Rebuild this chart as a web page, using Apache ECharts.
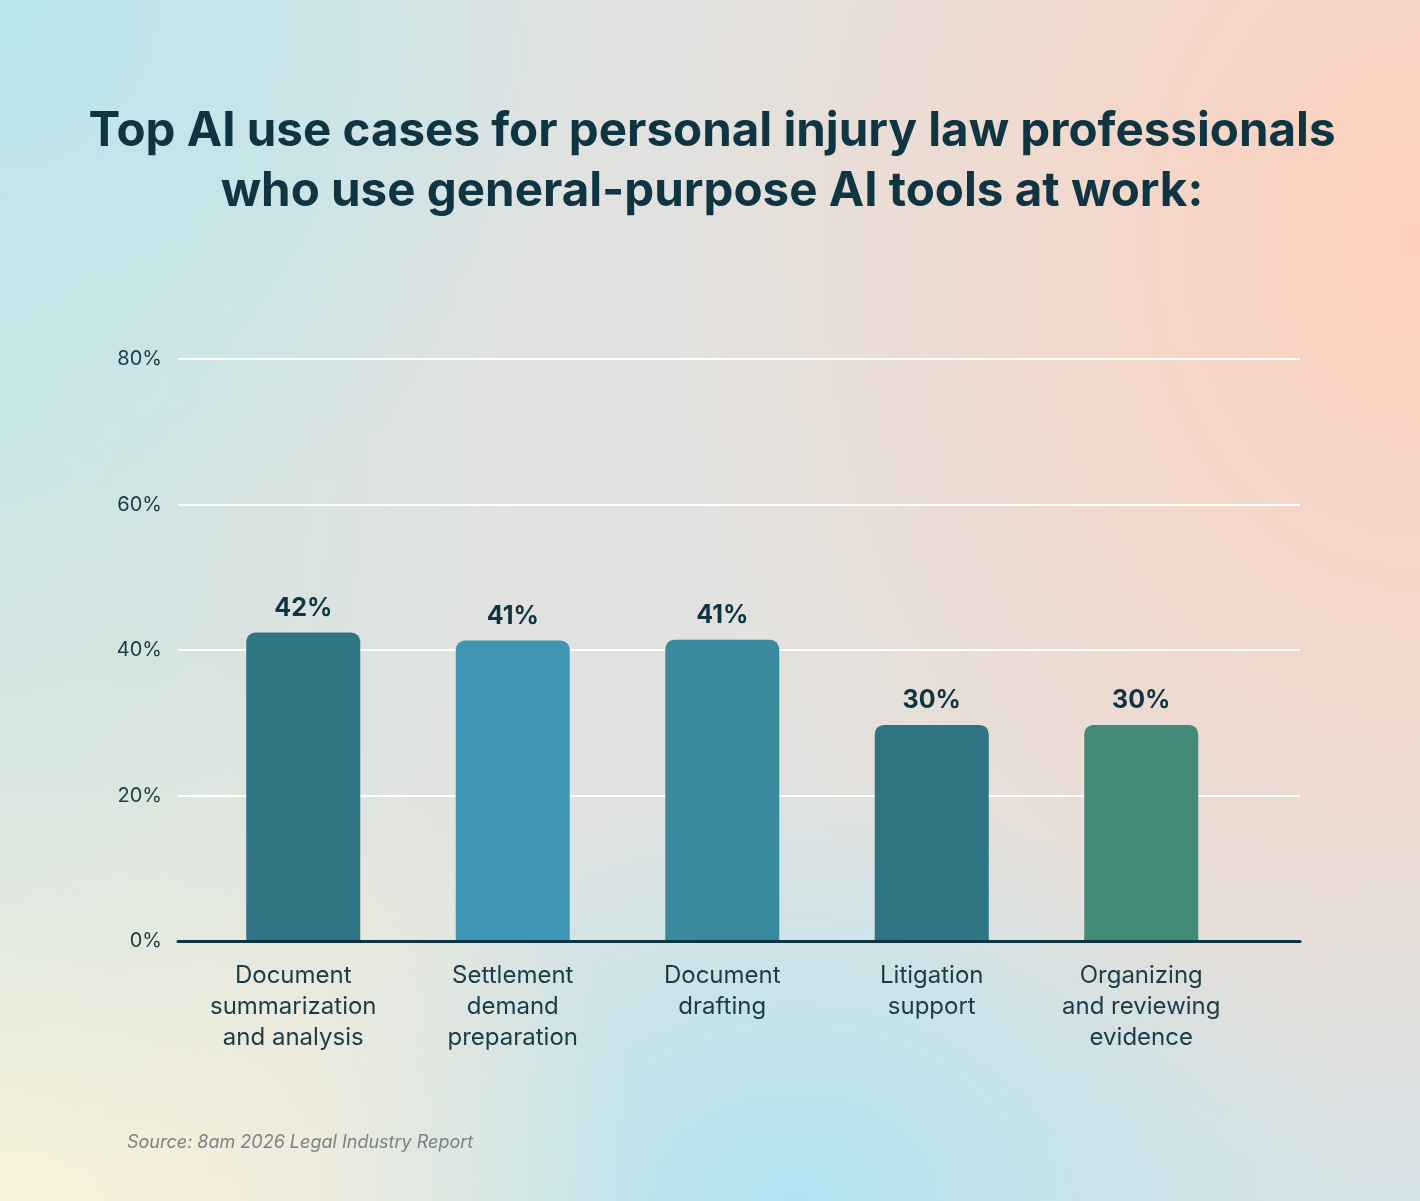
<!DOCTYPE html>
<html>
<head>
<meta charset="utf-8">
<script src="https://cdn.jsdelivr.net/npm/echarts@6/dist/echarts.min.js"></script>
<style>
  html, body { margin: 0; padding: 0; }
  body {
    width: 1420px; height: 1201px; overflow: hidden;
    background:
      radial-gradient(ellipse 620px 560px at 0% 0%, rgba(184,230,238,1), rgba(184,230,238,0) 100%),
      radial-gradient(ellipse 520px 900px at 0% 35%, rgba(200,230,228,0.8), rgba(200,230,228,0) 100%),
      radial-gradient(ellipse 760px 950px at 100% 20%, rgba(255,208,188,1), rgba(255,208,188,0) 100%),
      radial-gradient(ellipse 650px 600px at 0% 100%, rgba(255,244,216,1), rgba(255,244,216,0) 100%),
      radial-gradient(ellipse 560px 420px at 56% 100%, rgba(176,228,242,1), rgba(176,228,242,0) 100%),
      radial-gradient(ellipse 450px 420px at 100% 100%, rgba(212,226,231,1), rgba(212,226,231,0) 100%),
      #e1e2e0;
  }
  #chart { width: 1420px; height: 1201px; }
</style>
</head>
<body>
<div id="chart"></div>
<script>
var categories = [
    'Document\nsummarization\nand analysis',
    'Settlement\ndemand\npreparation',
    'Document\ndrafting',
    'Litigation\nsupport',
    'Organizing\nand reviewing\nevidence'
];
var shares = [42.4, 41.3, 41.4, 29.7, 29.7];
var barColors = ['#2f7482', '#4096b2', '#3a8a9e', '#2f7482', '#438a79'];
var yTicks = [0, 20, 40, 60, 80];

var ink = '#0f3442';
var myChart = echarts.init(document.getElementById('chart'), null, {renderer: 'canvas'});

// first label sits a little left of its bar in the original
var catData = categories.map(function (c, i) {
    return i === 0 ? {value: c, textStyle: {padding: [0, 20, 0, 0]}} : c;
});

var option = {
    backgroundColor: 'transparent',
    title: [{
        text: 'Top AI use cases for personal injury law professionals\nwho use general-purpose AI tools at work:',
        left: 707,
        top: 97,
        textAlign: 'center',
        textStyle: {
            fontFamily: 'Inter',
            fontSize: 47.5,
            fontWeight: 700,
            lineHeight: 60,
            color: ink
        }
    }, {
        text: 'Source: 8am 2026 Legal Industry Report',
        left: 122,
        top: 1129,
        textStyle: {
            fontFamily: 'Inter',
            fontSize: 18,
            fontStyle: 'italic',
            fontWeight: 400,
            color: '#7b8287'
        }
    }],
    grid: [
        {left: 178, right: 120, top: 359, bottom: 260},   // gridlines + y labels
        {left: 198.5, right: 174, top: 359, bottom: 260}  // bars
    ],
    xAxis: [{
        gridIndex: 0,
        type: 'value',
        min: 0, max: 1,
        z: 5,
        axisLine: {show: true, lineStyle: {color: ink, width: 3}},
        axisTick: {show: false},
        axisLabel: {show: false},
        splitLine: {show: false}
    }, {
        gridIndex: 1,
        type: 'category',
        data: catData,
        axisLine: {show: false},
        axisTick: {show: false},
        axisLabel: {
            interval: 0,
            hideOverlap: false,
            margin: 19,
            fontFamily: 'Inter',
            fontSize: 24,
            lineHeight: 31,
            color: '#1b3b46',
            align: 'center',
            verticalAlign: 'top'
        }
    }],
    yAxis: [{
        gridIndex: 0,
        type: 'value',
        min: yTicks[0],
        max: yTicks[yTicks.length - 1],
        interval: 20,
        axisLine: {show: false},
        axisTick: {show: false},
        axisLabel: {
            margin: 16,
            formatter: '{value}%',
            fontFamily: 'Inter',
            fontSize: 20,
            color: '#1b3b46'
        },
        splitLine: {lineStyle: {color: '#ffffff', width: 2}}
    }, {
        gridIndex: 1,
        type: 'value',
        min: 0, max: 80,
        show: false
    }],
    series: [{
        type: 'bar',
        xAxisIndex: 1,
        yAxisIndex: 1,
        barWidth: 114,
        data: shares.map(function (v, i) {
            return {value: v, itemStyle: {color: barColors[i], borderRadius: [9, 9, 0, 0]}};
        }),
        label: {
            show: true,
            position: 'top',
            distance: 12,
            formatter: function (p) { return Math.round(p.value) + '%'; },
            fontFamily: 'Inter',
            fontSize: 25,
            fontWeight: 700,
            color: ink
        }
    }]
};
myChart.setOption(option);
</script>
</body>
</html>
